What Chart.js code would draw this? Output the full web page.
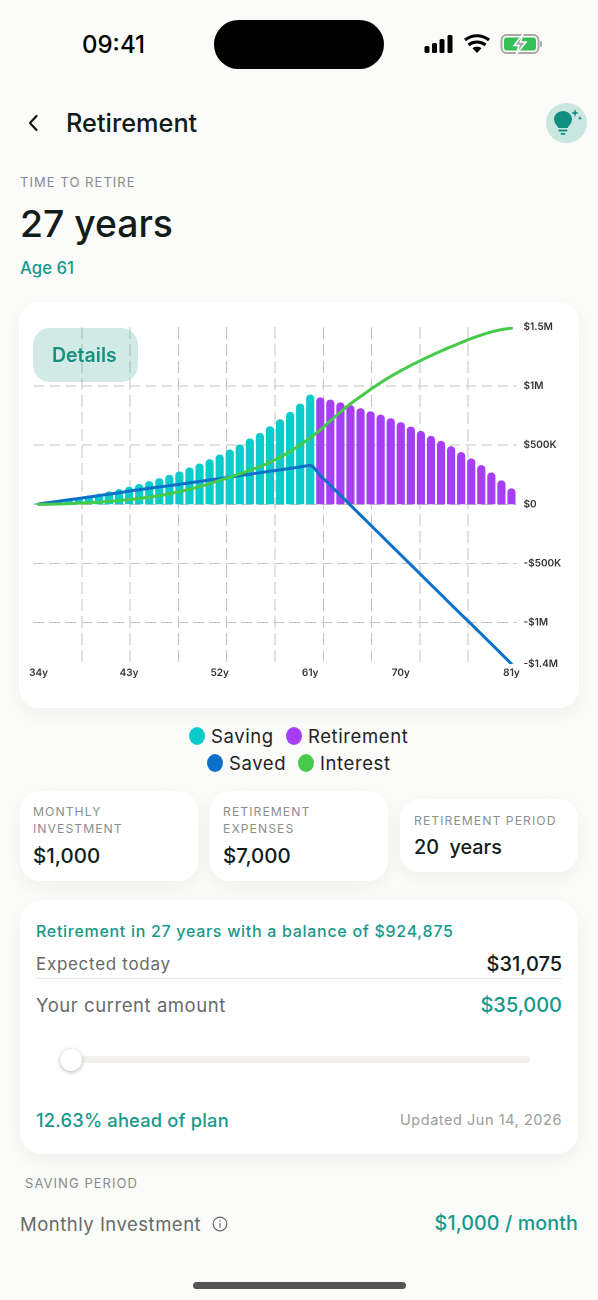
<!DOCTYPE html>
<html lang="en"><head><meta charset="utf-8"><title>Retirement</title>
<script src="https://cdn.jsdelivr.net/npm/chart.js@4/dist/chart.umd.min.js"></script>
<style>
*{box-sizing:border-box}
html,body{margin:0;padding:0;width:598px;height:1300px;overflow:hidden;background:#fbfbf9;font-family:Inter,"Noto Sans",sans-serif;color:#111c1b}
.t{position:absolute;white-space:nowrap;line-height:1;transform:translateY(-50%)}
.card{position:absolute;background:#fff;box-shadow:0 6px 18px rgba(30,40,40,.05)}
.lab{font-size:12.2px;letter-spacing:1.05px;color:#8a8f8e}
.teal{color:#16998a}
#chartWrap{position:absolute;left:0;top:300px;width:598px;height:400px}
.dot{position:absolute;width:16px;height:18px;border-radius:50%;transform:translate(-50%,-50%)}
</style></head><body>
<script>
const ages=["34y","35y","36y","37y","38y","39y","40y","41y","42y","43y","44y","45y","46y","47y","48y","49y","50y","51y","52y","53y","54y","55y","56y","57y","58y","59y","60y","61y","62y","63y","64y","65y","66y","67y","68y","69y","70y","71y","72y","73y","74y","75y","76y","77y","78y","79y","80y","81y"];
const xTickLabels=["34y","43y","52y","61y","70y","81y"];
const yTickValues=[-1350000,-1000000,-500000,0,500000,1000000,1500000];
const yTickLabels=["-$1.4M","-$1M","-$500K","$0","$500K","$1M","$1.5M"];
const saving=[6000,18000,30000,42000,57000,72000,88000,107000,126000,146000,169000,194000,219000,247000,275000,309000,343000,379000,419000,461000,503000,554000,602000,658000,717000,779000,849000,924875,null,null,null,null,null,null,null,null,null,null,null,null,null,null,null,null,null,null,null,null];
const retirement=[null,null,null,null,null,null,null,null,null,null,null,null,null,null,null,null,null,null,null,null,null,null,null,null,null,null,null,null,902000,883000,860000,835000,810000,784000,756000,725000,692000,655000,618000,576000,534000,489000,439000,385000,329000,267000,200000,132000];
const saved=[3000,15000,27000,39000,50000,62000,74000,86000,98000,112000,124000,136000,147000,158000,170000,182000,194000,206000,218000,231000,243000,255000,268000,280000,292000,304000,316000,329000,245000,161000,77000,-7000,-91000,-175000,-259000,-343000,-427000,-511000,-595000,-679000,-763000,-847000,-931000,-1012000,-1096000,-1180000,-1265000,-1350000];
const interest=[0,1000,3000,6000,10000,14000,19000,25000,32000,40000,50000,61000,74000,90000,108000,128000,150000,175000,203000,230000,258000,288000,320000,356000,398000,447000,503000,562000,630000,705000,780000,850000,912000,972000,1030000,1082000,1130000,1175000,1218000,1258000,1297000,1333000,1368000,1402000,1432000,1458000,1478000,1490000];
const seriesNames=["Saving","Retirement","Saved","Interest"];
const seriesColors=["#0ccbcb","#a63ef6","#0b70c9","#45ca4a"];
</script>

<!-- status bar -->
<div class="t" style="left:82px;top:45px;font-size:24px;font-weight:500;color:#000">09:41</div>
<div style="position:absolute;left:214px;top:20px;width:170px;height:49px;border-radius:25px;background:#000"></div>
<svg style="position:absolute;left:420px;top:33px" width="130" height="24" viewBox="0 0 130 24">
 <g fill="#000"><rect x="4.500" y="13" width="5" height="7" rx="1.500"/><rect x="12" y="10" width="5" height="10" rx="1.500"/><rect x="19.500" y="6" width="5" height="14" rx="1.500"/><rect x="27.500" y="2" width="5" height="18" rx="1.500"/>
 <path d="M57 20l-4.500-4.800c2.500-1.900 6.500-1.900 9 0z"/></g>
 <g fill="none" stroke="#000" stroke-width="3"><path d="M48.500 12c4.800-3.900 12.200-3.900 17 0"/><path d="M45 7c6.800-5.800 17.200-5.800 24 0"/></g>
 <rect x="81.500" y="2" width="37" height="18" rx="5" fill="none" stroke="#a5aaa5" stroke-width="2"/>
 <rect x="84" y="4.500" width="32" height="13" rx="3" fill="#35c05a"/>
 <rect x="120" y="8" width="2" height="6" rx="1" fill="#a5aaa5"/>
 <path d="M103 1l-9 11.500h5l-3 9 10-12.500h-5.500z" fill="#a5aaa5" stroke="#fbfbf9" stroke-width="1.500"/>
</svg>

<!-- header -->
<svg style="position:absolute;left:24px;top:112px" width="18" height="22" viewBox="0 0 18 22"><path d="M12.500 4l-6.500 7 6.500 7" fill="none" stroke="#111" stroke-width="2.200" stroke-linecap="round" stroke-linejoin="round"/></svg>
<div class="t" style="left:66px;top:123px;font-size:25.300px;font-weight:500">Retirement</div>
<div style="position:absolute;left:546px;top:103px;width:41px;height:40px;border-radius:50%;background:#c9e6e1"></div>
<svg style="position:absolute;left:546px;top:103px" width="41" height="40" viewBox="0 0 41 40"><g fill="#0f8f80"><path d="M17 8c5 0 9 3.700 9 8.200 0 3.500-2.200 5.400-3.500 7.300-.5.800-.8 1.500-.8 1.500h-9.400s-.3-.8-.8-1.500C10.200 21.600 8 19.700 8 16.200 8 11.700 12 8 17 8z"/><rect x="12.500" y="26.500" width="9" height="2" rx="1"/><rect x="14.500" y="30" width="5" height="1.800" rx=".9"/><path d="M29 6l1 3 3 1-3 1-1 3-1-3-3-1 3-1z"/><path d="M34 13l.6 1.600 1.600.6-1.600.6-.6 1.600-.6-1.600-1.600-.6 1.600-.6z"/></g></svg>

<div class="t" style="left:20px;top:182px;font-size:13px;letter-spacing:1.050px;color:#878c8b">TIME TO RETIRE</div>
<div class="t" style="left:20px;top:224px;font-size:37.300px;font-weight:500">27 years</div>
<div class="t teal" style="left:20px;top:268px;font-size:16.800px;font-weight:500">Age 61</div>

<!-- chart card -->
<div class="card" style="left:19px;top:302px;width:560px;height:406px;border-radius:20px"></div>
<div id="chartWrap"><canvas id="c" width="598" height="400" style="width:598px;height:400px;display:block"></canvas></div>
<div style="position:absolute;left:33px;top:328px;width:105px;height:54px;border-radius:17px;background:rgba(24,150,132,.2)"></div>
<div class="t" style="left:52px;top:356px;font-size:19.500px;font-weight:600;color:#16907f">Details</div>

<!-- legend -->
<div id="legend"></div>

<!-- small cards -->
<div class="card" style="left:20px;top:791px;width:178px;height:90px;border-radius:20px"></div>
<div class="t lab" style="left:33px;top:812px">MONTHLY</div>
<div class="t lab" style="left:33px;top:829px">INVESTMENT</div>
<div class="t" style="left:33px;top:856px;font-size:20.500px;font-weight:500">$1,000</div>
<div class="card" style="left:210px;top:791px;width:178px;height:90px;border-radius:20px"></div>
<div class="t lab" style="left:223px;top:812px">RETIREMENT</div>
<div class="t lab" style="left:223px;top:829px">EXPENSES</div>
<div class="t" style="left:223px;top:856px;font-size:20.500px;font-weight:500">$7,000</div>
<div class="card" style="left:400px;top:799px;width:178px;height:73px;border-radius:20px"></div>
<div class="t lab" style="left:414px;top:821px">RETIREMENT PERIOD</div>
<div class="t" style="left:414px;top:848px;font-size:19.800px;font-weight:500;white-space:pre">20  years</div>

<!-- balance card -->
<div class="card" style="left:20px;top:900px;width:558px;height:254px;border-radius:22px"></div>
<div class="t teal" style="left:36px;top:931px;font-size:16px;font-weight:500;letter-spacing:.7px">Retirement in 27 years with a balance of $924,875</div>
<div class="t" style="left:36px;top:964px;font-size:17px;color:#666b6a;letter-spacing:.7px">Expected today</div>
<div class="t" style="right:36px;top:964px;font-size:20px;font-weight:500">$31,075</div>
<div style="position:absolute;left:36px;top:978px;width:526px;height:1px;background:#e6e9e8"></div>
<div class="t" style="left:36px;top:1005px;font-size:18.500px;color:#666b6a;letter-spacing:.55px">Your current amount</div>
<div class="t teal" style="right:36px;top:1005px;font-size:20px;font-weight:500">$35,000</div>
<div style="position:absolute;left:70px;top:1056px;width:460px;height:7px;border-radius:3px;background:#f1f0ec"></div>
<div style="position:absolute;left:60px;top:1049px;width:22px;height:22px;border-radius:50%;background:#fff;box-shadow:0 1px 4px rgba(0,0,0,.3)"></div>
<div class="t teal" style="left:36px;top:1120px;font-size:18.300px;font-weight:500;letter-spacing:.2px">12.63% ahead of plan</div>
<div class="t" style="right:36px;top:1120px;font-size:14.500px;color:#9a9e9d;letter-spacing:.55px">Updated Jun 14, 2026</div>

<!-- saving period -->
<div class="t" style="left:25px;top:1183px;font-size:13px;letter-spacing:1.050px;color:#878c8b">SAVING PERIOD</div>
<div class="t" style="left:20px;top:1224px;font-size:18.500px;color:#666b6a;letter-spacing:.5px">Monthly Investment</div>
<svg style="position:absolute;left:212px;top:1216px" width="16" height="16" viewBox="0 0 16 16"><circle cx="8" cy="8" r="6.800" fill="none" stroke="#666b6a" stroke-width="1.200"/><rect x="7.400" y="7" width="1.200" height="4.800" fill="#666b6a"/><rect x="7.400" y="4.300" width="1.200" height="1.400" fill="#666b6a"/></svg>
<div class="t teal" style="right:20px;top:1224px;font-size:19.700px;font-weight:500;letter-spacing:.1px">$1,000 / month</div>
<div style="position:absolute;left:193px;top:1282px;width:213px;height:7px;border-radius:4px;background:#555"></div>

<script>
const gridColor="#c0c4c4";
const chart=new Chart(document.getElementById("c"),{
  data:{labels:ages,datasets:[
    {type:"line",label:seriesNames[3],data:interest,borderColor:seriesColors[3],borderWidth:3,pointRadius:0,cubicInterpolationMode:"monotone",borderCapStyle:"round",order:0},
    {type:"line",label:seriesNames[2],data:saved,borderColor:seriesColors[2],borderWidth:3,pointRadius:0,cubicInterpolationMode:"monotone",borderCapStyle:"round",order:1},
    {type:"bar",label:seriesNames[0],data:saving,backgroundColor:seriesColors[0],barThickness:7.500,borderRadius:4,grouped:false,order:2},
    {type:"bar",label:seriesNames[1],data:retirement,backgroundColor:seriesColors[1],barThickness:7.500,borderRadius:4,grouped:false,order:3}
  ]},
  options:{
    responsive:false,animation:false,devicePixelRatio:2,
    events:[],
    layout:{padding:{left:33.500,top:27,right:0,bottom:0}},
    plugins:{legend:{display:false},tooltip:{enabled:false}},
    scales:{
      x:{type:"category",position:"bottom",offset:true,
        grid:{display:false,drawTicks:false},border:{display:false},
        afterFit(s){s.height=36},
        ticks:{autoSkip:false,maxRotation:0,minRotation:0,padding:3,color:"#333",font:{family:"Inter",size:10,weight:"600"},
          callback(v){const l=this.getLabelForValue(v);return xTickLabels.includes(l)?l:""}}},
      xGrid:{type:"linear",position:"bottom",min:0,max:10,
        afterFit(s){s.height=0},
        border:{display:false,dash:[12,5]},
        ticks:{display:false,stepSize:1},
        grid:{drawTicks:false,tickLength:0,lineWidth:1,
          color:c=>(c.tick.value===0||c.tick.value===10)?"rgba(0,0,0,0)":gridColor}},
      y:{type:"linear",position:"right",min:-1350000,max:1500000,
        afterBuildTicks(a){a.ticks=yTickValues.map(v=>({value:v}))},
        afterFit(s){s.width=81.500},
        border:{display:false,dash:[11,5]},
        grid:{drawTicks:false,tickLength:0,lineWidth:1,
          color:c=>(c.tick.value===-1350000||c.tick.value===1500000)?"rgba(0,0,0,0)":gridColor},
        ticks:{padding:7,color:"#333",font:{family:"Inter",size:10,weight:"600"},
          callback(v){return yTickLabels[yTickValues.indexOf(v)]}}}
    }
  }
});
// HTML legend built from the chart's own datasets
const legendPos={Saving:[197,736,211],Retirement:[294,736,308],Saved:[215,763,229],Interest:[306,763,320]};
const lg=document.getElementById("legend");
chart.data.datasets.forEach(d=>{
  const p=legendPos[d.label];
  const col=d.backgroundColor||d.borderColor;
  lg.insertAdjacentHTML("beforeend",`<div class="dot" style="left:${p[0]}px;top:${p[1]}px;background:${col}"></div><div class="t" style="left:${p[2]}px;top:${p[1]}px;font-size:18.500px;color:#222;letter-spacing:.6px">${d.label}</div>`);
});
</script>
</body></html>
